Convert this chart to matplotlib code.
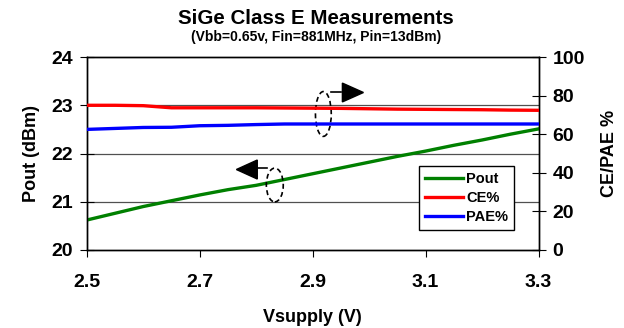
"""
SiGe Class E measurements: Pout, CE% and PAE% vs Vsupply.
"""
import matplotlib
matplotlib.use("Agg")
import matplotlib.pyplot as plt
from matplotlib.patches import Ellipse, Polygon

plt.rcParams["font.family"] = ["Liberation Sans", "DejaVu Sans"]
plt.rcParams["font.weight"] = "bold"

# Data
vsupply = [2.5, 2.55, 2.6, 2.65, 2.7, 2.75, 2.8, 2.85, 2.9, 2.95,
           3.0, 3.05, 3.1, 3.15, 3.2, 3.25, 3.3]
pout = [20.62, 20.76, 20.90, 21.02, 21.14, 21.25, 21.34, 21.46, 21.58,
        21.70, 21.82, 21.94, 22.05, 22.17, 22.28, 22.40, 22.51]
ce = [75.0, 75.0, 74.8, 73.7, 73.7, 73.7, 73.7, 73.6, 73.5, 73.4,
      73.2, 73.0, 72.9, 72.8, 72.7, 72.5, 72.4]
pae = [62.5, 63.0, 63.5, 63.6, 64.4, 64.6, 65.0, 65.3, 65.3, 65.3,
       65.3, 65.3, 65.3, 65.3, 65.3, 65.3, 65.3]
xticks = [2.5, 2.7, 2.9, 3.1, 3.3]
yticks_left = [20, 21, 22, 23, 24]
yticks_right = [0, 20, 40, 60, 80, 100]

fig = plt.figure(figsize=(6.24, 3.28), dpi=100)
ax = fig.add_axes([0.139, 0.238, 0.724, 0.588])
ax2 = ax.twinx()

ax.set_xlim(2.5, 3.3)
ax.set_ylim(20, 24)
ax2.set_ylim(0, 100)
ax.set_xticks(xticks)
ax.set_xticklabels([f"{v:.1f}" for v in xticks])
ax.set_yticks(yticks_left)
ax2.set_yticks(yticks_right)

for y in yticks_left[1:-1]:
    ax.axhline(y, color="#505050", lw=0.9, zorder=1)

l1, = ax.plot(vsupply, pout, color="#008000", lw=2.4, zorder=3, label="Pout")
l2, = ax2.plot(vsupply, ce, color="#ff0000", lw=2.4, zorder=3, label="CE%")
l3, = ax2.plot(vsupply, pae, color="#0000ff", lw=2.4, zorder=3, label="PAE%")

ax.tick_params(axis="x", direction="out", length=5, labelsize=14, pad=12)
ax.tick_params(axis="y", direction="inout", length=10, labelsize=14, pad=5)
ax2.tick_params(axis="y", direction="inout", length=10, labelsize=14, pad=5)
for a in (ax, ax2):
    for lab in a.get_xticklabels() + a.get_yticklabels():
        lab.set_fontweight("bold")
    for s in a.spines.values():
        s.set_linewidth(1.0)

ax.set_xlabel("Vsupply (V)", fontsize=13, fontweight="bold", labelpad=13)
ax.set_ylabel("Pout (dBm)", fontsize=13, fontweight="bold", labelpad=8)
ax2.set_ylabel("CE/PAE %", fontsize=13, fontweight="bold", labelpad=12)

fig.text(0.507, 0.945, "SiGe Class E Measurements", ha="center", va="center",
         fontsize=14.8, fontweight="bold")
fig.text(0.507, 0.888, "(Vbb=0.65v, Fin=881MHz, Pin=13dBm)", ha="center",
         va="center", fontsize=10, fontweight="bold")

leg = ax.legend(handles=[l1, l2, l3], loc="lower right",
                bbox_to_anchor=(0.962, 0.065), fontsize=10.5, frameon=True,
                fancybox=False, edgecolor="black", framealpha=1,
                handlelength=2.6, handletextpad=0.25, borderpad=0.4,
                labelspacing=0.35)
leg.get_frame().set_linewidth(1.0)
leg.set_zorder(5)
for t in leg.get_texts():
    t.set_fontweight("bold")

# axis markers: ellipse + dash + arrow head
ax.add_patch(Ellipse((2.919, 22.82), 0.028, 0.93, fill=False, ls=(0, (3, 2)),
                     lw=1.2, ec="black", zorder=4))
ax.plot([2.932, 2.951], [23.27, 23.27], color="black", lw=1.2, zorder=4)
ax.add_patch(Polygon([(2.9527, 23.46), (2.9527, 23.07), (2.99, 23.265)],
                     closed=True, fc="black", ec="black", zorder=4))

ax.add_patch(Ellipse((2.833, 21.347), 0.030, 0.70, fill=False, ls=(0, (3, 2)),
                     lw=1.2, ec="black", zorder=4))
ax.plot([2.804, 2.820], [21.70, 21.70], color="black", lw=1.2, zorder=4)
ax.add_patch(Polygon([(2.802, 21.865), (2.802, 21.471), (2.765, 21.668)],
                     closed=True, fc="black", ec="black", zorder=4))

fig.savefig("out.png", dpi=100)
